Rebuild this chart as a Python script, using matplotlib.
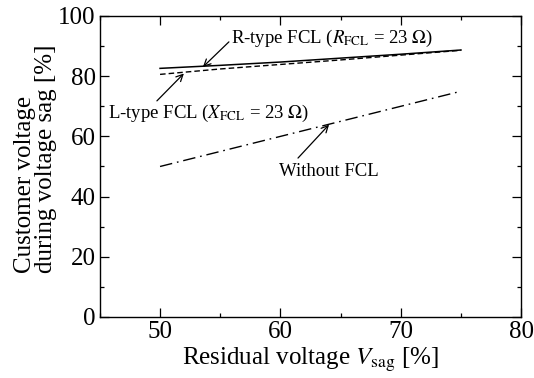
import matplotlib
matplotlib.use("Agg")
import matplotlib.pyplot as plt
from matplotlib.ticker import MultipleLocator

plt.rcParams['font.family'] = ['Liberation Serif', 'DejaVu Serif']
plt.rcParams['mathtext.fontset'] = 'stix'

# Residual voltage [%]
v_sag = [50, 55, 60, 65, 70, 75]
# Customer voltage during sag [%]
without_fcl = [50, 55, 60, 65, 70, 75]
r_type_fcl = [82.6, 83.6, 84.7, 86.0, 87.3, 88.7]
l_type_fcl = [80.6, 82.4, 83.9, 85.4, 87.0, 88.6]

fig = plt.figure(figsize=(5.34, 3.78), dpi=100)
ax = fig.add_axes([0.187, 0.1614, 0.789, 0.7963])

ax.plot(v_sag, r_type_fcl, color='black', lw=1.1, ls='-')
ax.plot(v_sag, l_type_fcl, color='black', lw=1.0, ls=(0, (4, 2.2)))
ax.plot(v_sag, without_fcl, color='black', lw=1.0, ls=(0, (9, 3.5, 1.2, 3.5)))

# labels
ax.text(55.9, 92.5, r'R-type FCL ($R_{\mathrm{FCL}}$ = 23 $\Omega$)', fontsize=13.5, ha='left', va='center')
ax.text(45.7, 67.5, r'L-type FCL ($X_{\mathrm{FCL}}$ = 23 $\Omega$)', fontsize=13.5, ha='left', va='center')
ax.text(64.05, 48.5, 'Without FCL', fontsize=13.5, ha='center', va='center')

# arrows pointing at curves
arrow = dict(arrowstyle='->', color='black', lw=0.9, shrinkA=0, shrinkB=0, mutation_scale=12)
ax.annotate('', xy=(53.56, 83.05), xytext=(55.72, 91.4), arrowprops=arrow)
ax.annotate('', xy=(51.98, 80.9), xytext=(49.74, 71.8), arrowprops=arrow)
ax.annotate('', xy=(64.04, 63.9), xytext=(61.46, 52.8), arrowprops=arrow)

ax.set_xlim(45, 80)
ax.set_ylim(0, 100)
ax.xaxis.set_major_locator(MultipleLocator(10))
ax.xaxis.set_minor_locator(MultipleLocator(5))
ax.yaxis.set_major_locator(MultipleLocator(20))
ax.yaxis.set_minor_locator(MultipleLocator(10))
ax.tick_params(which='both', direction='in', top=True, right=True, labelsize=18, width=0.9)
ax.tick_params(which='major', length=6.5, pad=3)
ax.tick_params(which='minor', length=3)
ax.set_xticks([50, 60, 70, 80])
for s in ax.spines.values():
    s.set_linewidth(1.0)

ax.set_xlabel(r'Residual voltage $V_{\mathrm{sag}}$ [%]', fontsize=18, labelpad=2)
ax.set_ylabel('Customer voltage\nduring voltage sag [%]', fontsize=18, linespacing=0.95,
              multialignment='left')
ax.yaxis.set_label_coords(-0.102, 0.525)

fig.savefig('out.png', dpi=100)
